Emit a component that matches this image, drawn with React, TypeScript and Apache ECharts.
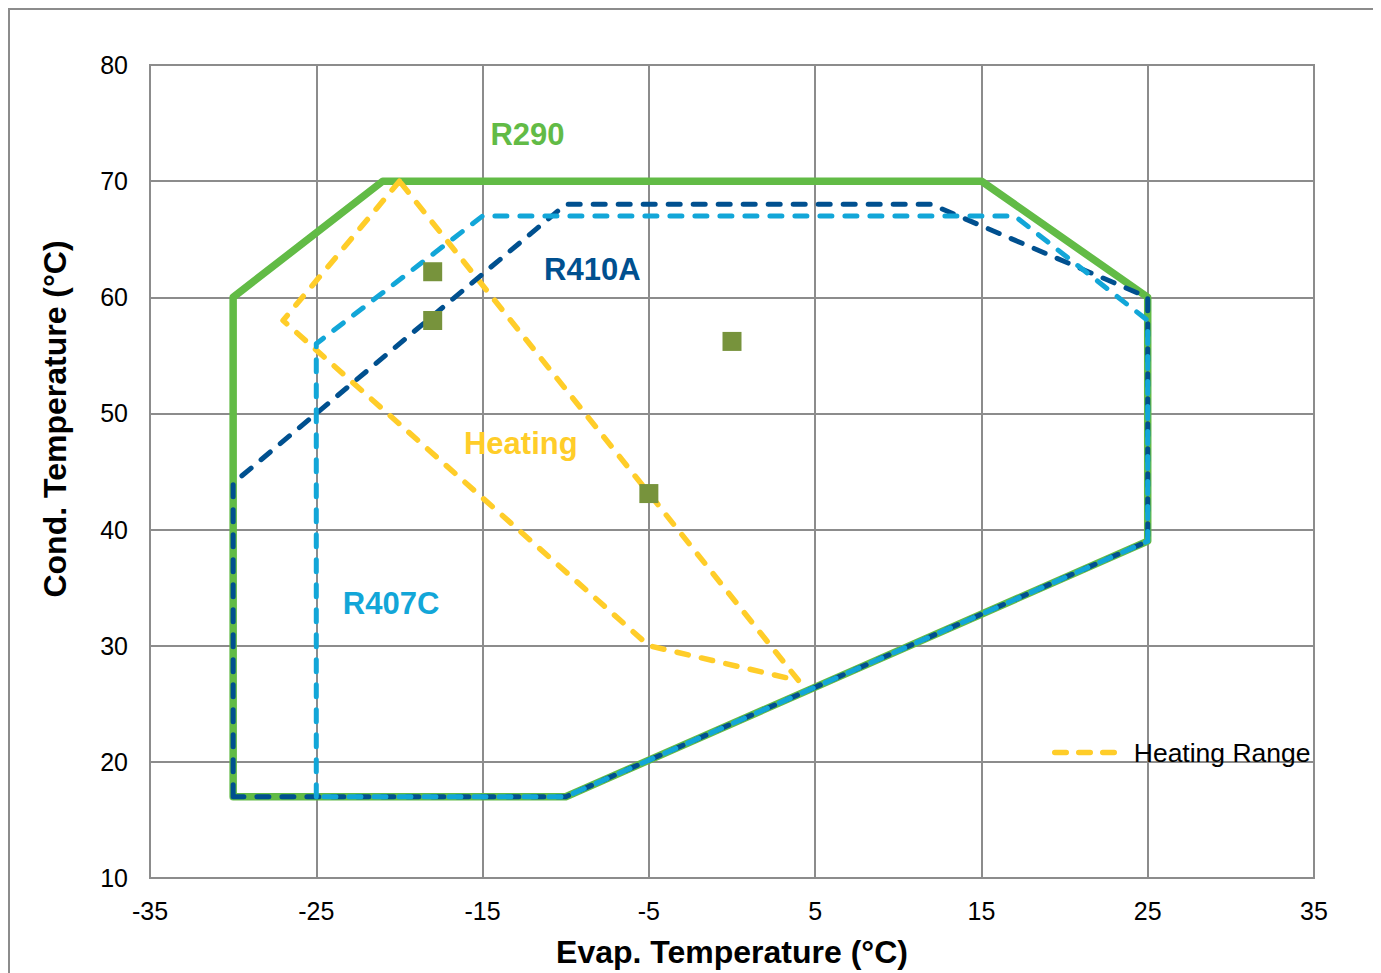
import React, { useEffect, useRef } from "react";
import * as echarts from "echarts";

const xTicks = [-35, 35, 10];
const yTicks = [10, 80, 10];

const r290: [number, number][] = [
  [-30, 17], [-30, 60], [-21, 70], [15, 70], [25, 60], [25, 39], [-10, 17], [-30, 17],
];
const r410a: [number, number][] = [
  [-30, 17], [-30, 44], [-10, 68], [12, 68], [25, 60], [25, 39], [-10, 17], [-30, 17],
];
const r407c: [number, number][] = [
  [-25, 17], [-25, 56], [-15, 67], [17, 67], [25, 58], [25, 39], [-10, 17], [-25, 17],
];
const heating: [number, number][] = [
  [-20, 70], [-27, 58], [-5, 30], [4, 27], [-20, 70],
];
const points: [number, number][] = [
  [-18, 62.2], [-18, 58], [0, 56.2], [-5, 43.1],
];
const labelNames = ["R290", "R410A", "Heating", "R407C"];
const labelPos: [number, number][] = [
  [-12.3, 74], [-8.4, 62.4], [-12.7, 47.4], [-20.5, 33.6],
];
const labelColors = ["#62bb46", "#00508f", "#ffcd29", "#12a6d8"];

const FONT = "'Liberation Sans', Arial, sans-serif";

export default function App() {
  const ref = useRef<HTMLDivElement>(null);
  useEffect(() => {
    if (!ref.current) return;
    const chart = echarts.init(ref.current, null, { renderer: "svg" });
    const gridLine = { lineStyle: { color: "#8c8c8c", width: 2 } };
    chart.setOption({
      animation: false,
      backgroundColor: "#ffffff",
      textStyle: { fontFamily: FONT },
      grid: { left: 140, right: 67, top: 55, bottom: 95, show: true, borderColor: "#8c8c8c", borderWidth: 2 },
      legend: {
        data: ["Heating Range"],
        left: 1037,
        top: 724,
        itemWidth: 66,
        itemHeight: 14,
        itemGap: 8,
        itemStyle: { opacity: 0 },
        lineStyle: { width: 5.5, type: [11.5, 12.5], cap: "round", color: "#ffcd29" },
        textStyle: { fontSize: 26.5, color: "#000", fontFamily: FONT, padding: [0, 0, 0, 8] },
      },
      graphic: [
        {
          type: "text",
          x: 45,
          y: 409,
          rotation: Math.PI / 2,
          style: {
            text: "Cond. Temperature (°C)",
            fontSize: 32,
            fontWeight: "bold",
            fontFamily: FONT,
            fill: "#000",
            align: "center",
            verticalAlign: "middle",
          },
        },
      ],
      xAxis: {
        type: "value",
        min: xTicks[0],
        max: xTicks[1],
        interval: xTicks[2],
        name: "Evap. Temperature (°C)",
        nameLocation: "middle",
        nameGap: 58,
        nameTextStyle: { fontSize: 32, fontWeight: "bold", color: "#000", fontFamily: FONT },
        axisLine: { show: false },
        axisTick: { show: false },
        splitLine: gridLine,
        axisLabel: { fontSize: 25, color: "#000", margin: 20, fontFamily: FONT },
      },
      yAxis: {
        type: "value",
        min: yTicks[0],
        max: yTicks[1],
        interval: yTicks[2],
        axisLine: { show: false },
        axisTick: { show: false },
        splitLine: gridLine,
        axisLabel: { fontSize: 25, color: "#000", margin: 22, fontFamily: FONT },
      },
      series: [
        {
          name: "R290",
          type: "line",
          data: r290,
          symbol: "none",
          z: 2,
          lineStyle: { color: "#62bb46", width: 7.5, join: "round", cap: "round" },
          itemStyle: { color: "#62bb46" },
        },
        {
          name: "Heating Range",
          type: "line",
          data: heating,
          symbol: "none",
          z: 3,
          lineStyle: { color: "#ffcd29", width: 5.5, type: [11.5, 13.5], cap: "round", join: "round" },
          itemStyle: { color: "#ffcd29" },
        },
        {
          name: "R410A",
          type: "line",
          data: r410a,
          symbol: "none",
          z: 4,
          lineStyle: { color: "#00508f", width: 5, type: [12, 13], cap: "round", join: "round" },
          itemStyle: { color: "#00508f" },
        },
        {
          name: "R407C",
          type: "line",
          data: r407c,
          symbol: "none",
          z: 5,
          lineStyle: { color: "#12a6d8", width: 5, type: [12, 13], cap: "round", join: "round" },
          itemStyle: { color: "#12a6d8" },
        },
        {
          name: "Points",
          type: "scatter",
          data: points,
          symbol: "rect",
          symbolSize: 19,
          z: 6,
          itemStyle: { color: "#77933c", opacity: 1 },
        },
        {
          name: "Labels",
          type: "scatter",
          symbolSize: 0,
          z: 7,
          itemStyle: { opacity: 1 },
          data: labelNames.map((n, i) => ({
            name: n,
            value: labelPos[i],
            label: {
              show: true,
              position: "inside",
              formatter: n,
              color: labelColors[i],
              opacity: 1,
              fontSize: 31,
              fontWeight: "bold",
              fontFamily: FONT,
            },
          })),
        },
      ],
    });
    return () => chart.dispose();
  }, []);
  return (
    <div
      ref={ref}
      style={{
        width: 1373,
        height: 965,
        borderTop: "2px solid #8c8c8c",
        borderLeft: "2px solid #8c8c8c",
        boxSizing: "border-box",
      }}
    />
  );
}
